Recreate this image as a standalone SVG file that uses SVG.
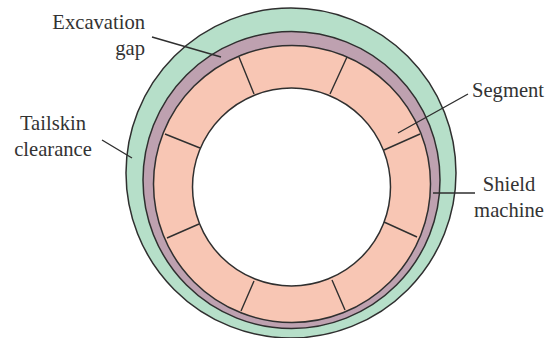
<svg xmlns="http://www.w3.org/2000/svg" width="554" height="338" viewBox="0 0 554 338">
<style>
.o{stroke:#2f2f2f;stroke-width:1.5}
.l{stroke:#2f2f2f;stroke-width:1.4;fill:none}
text{font-family:"Liberation Serif","Times New Roman",serif;font-size:20.6px;fill:#333}
.r{text-anchor:end}
.m{text-anchor:middle}
</style>
<g id="tailskin-clearance"><circle class="o" cx="291" cy="173" r="165" fill="#b6dfc9"/></g>
<g id="excavation-gap"><circle class="o" cx="291.5" cy="180" r="148.5" fill="#bea1b0"/></g>
<g id="segment-ring"><circle class="o" cx="292" cy="184" r="138.5" fill="#f8c6b4"/><circle class="o" cx="291.5" cy="187" r="99" fill="#fff"/></g>
<g id="segment-joints" class="l">
<path d="M239 57L254 94M165 134L200 148M347 57L330 94M420 134L384 150M384 222L417 237M332 280L345 310M199 224L167 238M254 281L241 311"/>
</g>
<g id="connectors" class="l">
<path d="M152 37L221 57M102 140L132 158M468 94L398 133M433 193L475 193"/>
</g>
<g id="label-excavation"><text class="r" x="145" y="29">Excavation</text><text class="r" x="145" y="55">gap</text></g>
<g id="label-tailskin"><text class="m" x="53" y="130">Tailskin</text><text class="m" x="53" y="156">clearance</text></g>
<g id="label-segment"><text x="472" y="97">Segment</text></g>
<g id="label-shield"><text class="m" x="509" y="191">Shield</text><text class="m" x="509" y="217">machine</text></g>
</svg>
